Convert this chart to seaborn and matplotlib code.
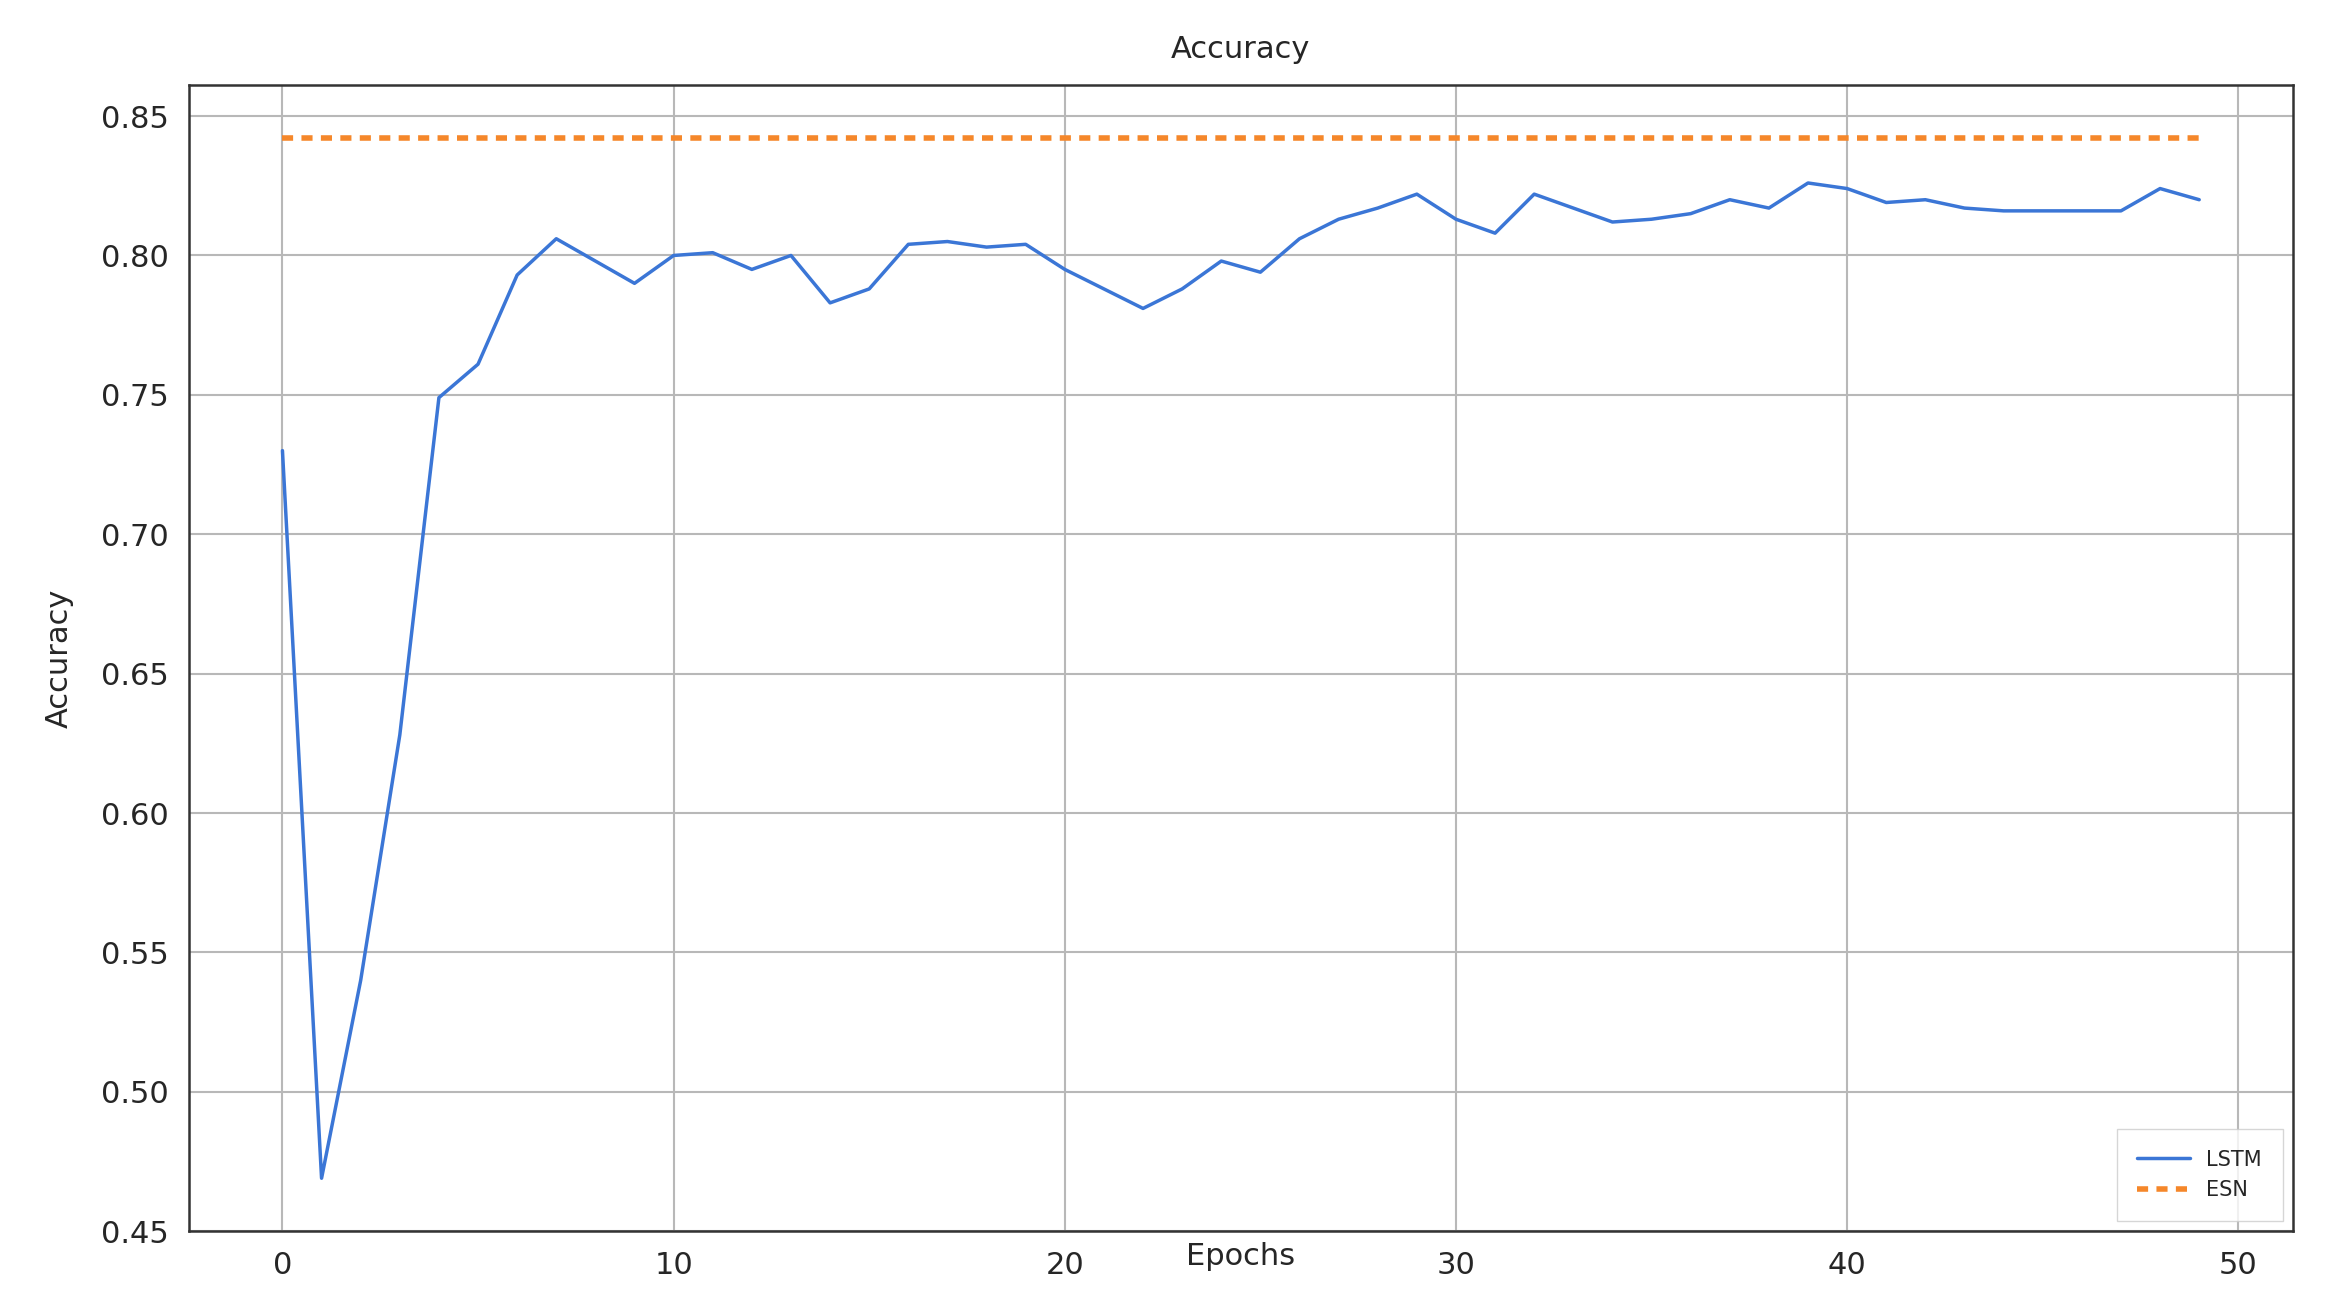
import pandas as pd
import seaborn as sns
import matplotlib.pyplot as plt

epochs = list(range(50))
lstm = [0.730, 0.469, 0.540, 0.628, 0.749, 0.761, 0.793, 0.806, 0.798, 0.790,
        0.800, 0.801, 0.795, 0.800, 0.783, 0.788, 0.804, 0.805, 0.803, 0.804,
        0.795, 0.788, 0.781, 0.788, 0.798, 0.794, 0.806, 0.813, 0.817, 0.822,
        0.813, 0.808, 0.822, 0.817, 0.812, 0.813, 0.815, 0.820, 0.817, 0.826,
        0.824, 0.819, 0.820, 0.817, 0.816, 0.816, 0.816, 0.816, 0.824, 0.820]
esn = [0.842] * 50

df = pd.DataFrame({'Epochs': epochs, 'LSTM': lstm, 'ESN': esn})

sns.set_style('whitegrid')
plt.rcParams['font.family'] = ['DejaVu Sans']
fig, ax = plt.subplots(figsize=(23.28, 13.14), dpi=100)

sns.lineplot(data=df, x='Epochs', y='LSTM', ax=ax, color='#3b76d6', linewidth=2.5, label='LSTM')
sns.lineplot(data=df, x='Epochs', y='ESN', ax=ax, color='#f5872a', linewidth=4, linestyle=(0, (2, 1.5)), label='ESN')

ax.set_xlim(-2.4, 51.4)
ax.set_ylim(0.45, 0.861)
ax.set_xticks([0, 10, 20, 30, 40, 50])
ax.set_yticks([0.45, 0.50, 0.55, 0.60, 0.65, 0.70, 0.75, 0.80, 0.85])
ax.set_yticklabels([f'{v:.2f}' for v in ax.get_yticks()])
ax.tick_params(labelsize=22, length=0, pad=14)
ax.grid(color='#b8b8b8', linewidth=1.5)
for s in ax.spines.values():
    s.set_color('#333333')
    s.set_linewidth(1.8)

ax.set_title('Accuracy', fontsize=22, pad=20)
ax.set_ylabel('Accuracy', fontsize=22, labelpad=20)
ax.set_xlabel('Epochs', fontsize=22, labelpad=-27)
ax.legend(loc='lower right', fontsize=15, frameon=True, fancybox=False, edgecolor='#cccccc',
          borderpad=1.0, handlelength=2.5)

plt.subplots_adjust(left=0.081, right=0.985, top=0.935, bottom=0.063)
plt.savefig('out.png', dpi=100)
